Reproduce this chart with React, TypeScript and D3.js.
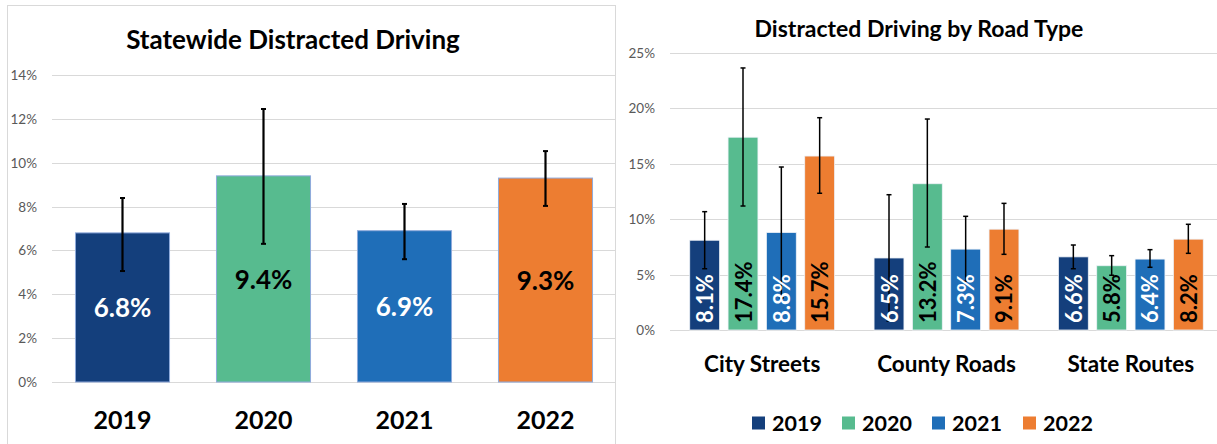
import React, { useEffect, useRef } from 'react';
import * as d3 from 'd3';

// Statewide chart data
const years = ['2019', '2020', '2021', '2022'];
const statewide = [0.068, 0.094, 0.069, 0.093];
const statewideLow = [0.0506, 0.063, 0.056, 0.0803];
const statewideHigh = [0.0839, 0.1245, 0.0812, 0.1053];
const statewideTicks = [0, 0.02, 0.04, 0.06, 0.08, 0.1, 0.12, 0.14];

// Road type chart data
const roads = ['City Streets', 'County Roads', 'State Routes'];
const road2019 = [0.081, 0.065, 0.066];
const road2020 = [0.174, 0.132, 0.058];
const road2021 = [0.088, 0.073, 0.064];
const road2022 = [0.157, 0.091, 0.082];
const roadLow2019 = [0.0553, 0.008, 0.0553];
const roadLow2020 = [0.1119, 0.0749, 0.0494];
const roadLow2021 = [0.029, 0.044, 0.0566];
const roadLow2022 = [0.1234, 0.0683, 0.0692];
const roadHigh2019 = [0.1068, 0.1221, 0.0767];
const roadHigh2020 = [0.2365, 0.1904, 0.0671];
const roadHigh2021 = [0.1471, 0.1026, 0.0725];
const roadHigh2022 = [0.1916, 0.1143, 0.0954];
const roadTicks = [0, 0.05, 0.1, 0.15, 0.2, 0.25];

const colors = ['#143f7c', '#57bb8f', '#1f6eb8', '#ed7d31'];
const labelColors = ['#ffffff', '#000000', '#ffffff', '#000000'];
const font = 'Lato, "Open Sans", sans-serif';

export default function App() {
  const ref = useRef<SVGSVGElement>(null);

  useEffect(() => {
    const svg = d3.select(ref.current);
    svg.selectAll('*').remove();

    // panel border for left chart
    svg.append('rect')
      .attr('x', 7.5).attr('y', 5.5)
      .attr('width', 608).attr('height', 460)
      .attr('fill', 'none').attr('stroke', '#d9d9d9');

    // ---------- Left chart ----------
    const yL = d3.scaleLinear().domain([0, 0.14]).range([382, 75]);
    const xL = d3.scaleBand<string>().domain(years).range([52, 616])
      .paddingInner(0.333).paddingOuter(0.1665);

    const left = svg.append('g');

    left.append('text')
      .attr('x', 293).attr('y', 39)
      .attr('text-anchor', 'middle').attr('dominant-baseline', 'central')
      .attr('font-family', font).attr('font-weight', 700).attr('font-size', 26)
      .text('Statewide Distracted Driving');

    left.selectAll('.gridL').data(statewideTicks).enter().append('line')
      .attr('x1', 52).attr('x2', 616)
      .attr('y1', d => Math.round(yL(d)) + 0.5).attr('y2', d => Math.round(yL(d)) + 0.5)
      .attr('stroke', '#d9d9d9').attr('stroke-width', 1);

    left.selectAll('.tickL').data(statewideTicks).enter().append('text')
      .attr('x', 37).attr('y', d => yL(d))
      .attr('text-anchor', 'end').attr('dominant-baseline', 'central')
      .attr('font-family', font).attr('font-size', 13.5).attr('fill', '#595959')
      .text(d => `${Math.round(d * 100)}%`);

    left.selectAll('.barL').data(statewide).enter().append('rect')
      .attr('x', (d, i) => xL(years[i])!)
      .attr('y', d => yL(d))
      .attr('width', xL.bandwidth())
      .attr('height', d => yL(0) - yL(d))
      .attr('fill', (d, i) => colors[i])
      .attr('stroke', '#8faadc').attr('stroke-width', 1);

    const errL = left.selectAll('.errL').data(statewide).enter().append('g');
    errL.append('line')
      .attr('x1', (d, i) => xL(years[i])! + xL.bandwidth() / 2)
      .attr('x2', (d, i) => xL(years[i])! + xL.bandwidth() / 2)
      .attr('y1', (d, i) => yL(statewideLow[i]))
      .attr('y2', (d, i) => yL(statewideHigh[i]))
      .attr('stroke', '#000').attr('stroke-width', 2.2);
    [statewideLow, statewideHigh].forEach(arr => {
      errL.append('line')
        .attr('x1', (d, i) => xL(years[i])! + xL.bandwidth() / 2 - 2.5)
        .attr('x2', (d, i) => xL(years[i])! + xL.bandwidth() / 2 + 2.5)
        .attr('y1', (d, i) => yL(arr[i]))
        .attr('y2', (d, i) => yL(arr[i]))
        .attr('stroke', '#000').attr('stroke-width', 2);
    });

    left.selectAll('.valL').data(statewide).enter().append('text')
      .attr('x', (d, i) => xL(years[i])! + xL.bandwidth() / 2)
      .attr('y', d => (yL(d) + yL(0)) / 2)
      .attr('text-anchor', 'middle').attr('dominant-baseline', 'central')
      .attr('font-family', font).attr('font-weight', 700).attr('font-size', 26)
      .attr('fill', (d, i) => labelColors[i])
      .text(d => `${(d * 100).toFixed(1)}%`);

    left.selectAll('.catL').data(years).enter().append('text')
      .attr('x', d => xL(d)! + xL.bandwidth() / 2)
      .attr('y', 419)
      .attr('text-anchor', 'middle').attr('dominant-baseline', 'central')
      .attr('font-family', font).attr('font-weight', 700).attr('font-size', 25)
      .text(d => d);

    // ---------- Right chart ----------
    const yR = d3.scaleLinear().domain([0, 0.25]).range([330, 53]);
    const x0 = d3.scaleBand<string>().domain(roads).range([670, 1223])
      .paddingInner(0.214).paddingOuter(0.107);
    const x1 = d3.scaleBand<string>().domain(years).range([0, x0.bandwidth()])
      .paddingInner(0.22);

    const series = [road2019, road2020, road2021, road2022];
    const lows = [roadLow2019, roadLow2020, roadLow2021, roadLow2022];
    const highs = [roadHigh2019, roadHigh2020, roadHigh2021, roadHigh2022];

    const cells = roads.flatMap((road, r) => years.map((year, s) => ({
      road, year, s,
      value: series[s][r], low: lows[s][r], high: highs[s][r],
    })));

    const right = svg.append('g');

    right.append('text')
      .attr('x', 919).attr('y', 28)
      .attr('text-anchor', 'middle').attr('dominant-baseline', 'central')
      .attr('font-family', font).attr('font-weight', 700).attr('font-size', 23)
      .text('Distracted Driving by Road Type');

    right.selectAll('.gridR').data(roadTicks).enter().append('line')
      .attr('x1', 670).attr('x2', 1217)
      .attr('y1', d => Math.round(yR(d)) + 0.5).attr('y2', d => Math.round(yR(d)) + 0.5)
      .attr('stroke', '#d9d9d9').attr('stroke-width', 1);

    right.selectAll('.tickR').data(roadTicks).enter().append('text')
      .attr('x', 655).attr('y', d => yR(d))
      .attr('text-anchor', 'end').attr('dominant-baseline', 'central')
      .attr('font-family', font).attr('font-size', 13.5).attr('fill', '#595959')
      .text(d => `${Math.round(d * 100)}%`);

    const cx = (c: { road: string; year: string }) =>
      x0(c.road)! + x1(c.year)! + x1.bandwidth() / 2;

    right.selectAll('.barR').data(cells).enter().append('rect')
      .attr('x', d => x0(d.road)! + x1(d.year)!)
      .attr('y', d => yR(d.value))
      .attr('width', x1.bandwidth())
      .attr('height', d => yR(0) - yR(d.value))
      .attr('fill', d => colors[d.s])
      .attr('stroke', '#eef2f8').attr('stroke-width', 0.8);

    right.selectAll('.errR').data(cells).enter().append('line')
      .attr('x1', d => cx(d)).attr('x2', d => cx(d))
      .attr('y1', d => yR(d.low)).attr('y2', d => yR(d.high))
      .attr('stroke', '#000').attr('stroke-width', 1.5);
    right.selectAll('.capHi').data(cells).enter().append('line')
      .attr('x1', d => cx(d) - 2.5).attr('x2', d => cx(d) + 2.5)
      .attr('y1', d => yR(d.high)).attr('y2', d => yR(d.high))
      .attr('stroke', '#000').attr('stroke-width', 1.5);
    right.selectAll('.capLo').data(cells).enter().append('line')
      .attr('x1', d => cx(d) - 2.5).attr('x2', d => cx(d) + 2.5)
      .attr('y1', d => yR(d.low)).attr('y2', d => yR(d.low))
      .attr('stroke', '#000').attr('stroke-width', 1.5);

    right.selectAll('.valR').data(cells).enter().append('text')
      .attr('transform', d => `translate(${cx(d)},${yR(0) - 7}) rotate(-90)`)
      .attr('text-anchor', 'start').attr('dominant-baseline', 'central')
      .attr('font-family', font).attr('font-weight', 700).attr('font-size', 22)
      .attr('fill', d => labelColors[d.s])
      .text(d => `${(d.value * 100).toFixed(1)}%`);

    right.selectAll('.catR').data(roads).enter().append('text')
      .attr('x', d => x0(d)! + x0.bandwidth() / 2)
      .attr('y', 363)
      .attr('text-anchor', 'middle').attr('dominant-baseline', 'central')
      .attr('font-family', font).attr('font-weight', 700).attr('font-size', 22.5)
      .text(d => d);

    // legend
    const legendX = [752, 842, 932, 1023];
    const legend = right.selectAll('.leg').data(years).enter().append('g')
      .attr('transform', (d, i) => `translate(${legendX[i]},423)`);
    legend.append('rect')
      .attr('x', 0).attr('y', -6.5).attr('width', 13).attr('height', 13)
      .attr('fill', (d, i) => colors[i]);
    legend.append('text')
      .attr('x', 20).attr('y', 0)
      .attr('dominant-baseline', 'central')
      .attr('font-family', font).attr('font-weight', 700).attr('font-size', 21.5)
      .text(d => d);
  }, []);

  return (
    <svg
      ref={ref}
      width={1217}
      height={444}
      style={{ position: 'absolute', left: 0, top: 0, background: '#fff' }}
    />
  );
}
